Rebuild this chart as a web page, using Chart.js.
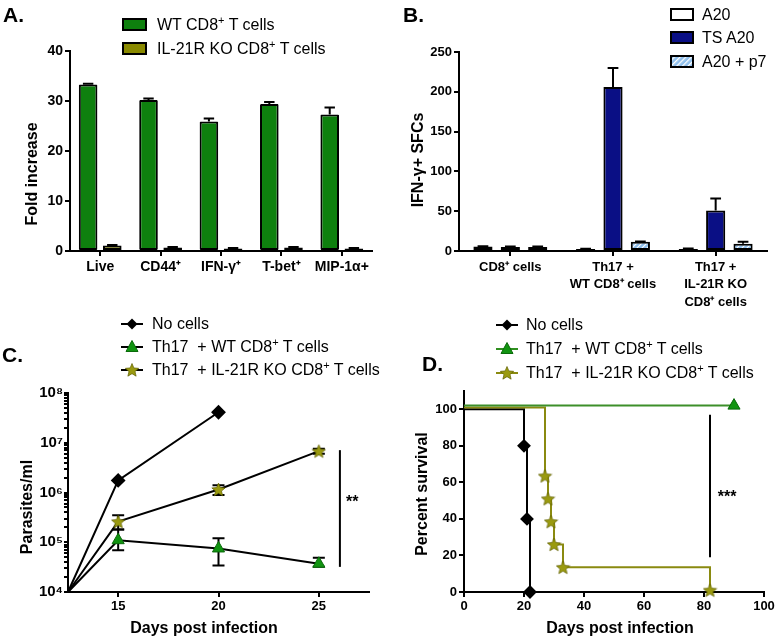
<!DOCTYPE html>
<html><head><meta charset="utf-8">
<script src="https://cdn.jsdelivr.net/npm/chart.js@4.4.1/dist/chart.umd.min.js"></script>
<style>
body{margin:0;background:#fff;width:779px;height:639px;overflow:hidden;position:relative;font-family:"Liberation Sans",Arial,sans-serif;color:#000}
canvas{position:absolute}
.t{position:absolute;white-space:nowrap}
.pl{font-weight:bold;font-size:21px;line-height:24px}
.ax{font-weight:bold;font-size:16px;line-height:18px}
.lg{font-size:16px;line-height:20px}
.rot{transform:translate(-50%,-50%) rotate(-90deg)}
.ctr{transform:translate(-50%,-50%)}
sup{font-size:11px;line-height:0;vertical-align:6px}
</style></head><body>
<canvas id="cA" width="390" height="300" style="left:0;top:0"></canvas>
<canvas id="cB" width="389" height="315" style="left:390px;top:0"></canvas>
<canvas id="cC" width="390" height="339" style="left:0;top:300px"></canvas>
<canvas id="cD" width="389" height="339" style="left:390px;top:300px"></canvas>
<div id="over"></div>
<script>
// ---------- data ----------
const catsA = ['Live', 'CD44⁺', 'IFN-γ⁺', 'T-bet⁺', 'MIP-1α+'];
const wtA = [33.3, 30.2, 25.9, 29.4, 27.3];
const wtAErr = [0.15, 0.3, 0.6, 0.4, 1.4];
const koA = [1.1, 0.7, 0.5, 0.7, 0.5];
const koAErr = [0.1, 0.1, 0.1, 0.1, 0.1];

const catsB = [['CD8⁺ cells'], ['Th17 +', 'WT CD8⁺ cells'], ['Th17 +', 'IL-21R KO', 'CD8⁺ cells']];
const a20B = [5.5, 2.5, 2.5];
const a20BErr = [0.5, 0.3, 0.5];
const tsB = [5, 206, 51];
const tsBErr = [0.5, 24, 15];
const p7B = [5, 11.5, 9];
const p7BErr = [0.5, 0.5, 2.5];

const daysC = [12.5, 15, 20, 25];
const noCellsC = [1e4, 1.75e6, 4.1e7, null];
const wtC = [1e4, 1.1e5, 7.5e4, 3.7e4];
const wtCLo = [null, 6.9e4, 3.4e4, 3.2e4];
const wtCHi = [null, 1.8e5, 1.2e5, 4.9e4];
const koC = [1e4, 2.6e5, 1.15e6, 6.8e6];
const koCLo = [null, 1.8e5, 8.9e5, 6.0e6];
const koCHi = [null, 3.5e5, 1.4e6, 7.6e6];
const xTicksC = [15, 20, 25];
const decadesC = [1e4, 1e5, 1e6, 1e7, 1e8];
const sigC = {x: 26.05, y0: 7.1e6, y1: 3.2e4, label: '**', lx: 26.35, ly: 7.5e5};

const daysNoCellsD = [0, 20, 21, 22];
const survNoCellsD = [100, 80, 40, 0];
const daysWtD = [0, 90];
const survWtD = [102, 102];
const daysKoD = [0, 27, 28, 29, 30, 33, 82];
const survKoD = [101, 63.5, 51, 38.5, 26, 13.5, 1];
const sigD = {x: 82, y0: 97, y1: 19, label: '***', lx: 84.6, ly: 54};

// ---------- styles ----------
const FF = '"Liberation Sans", Arial, sans-serif';
const GREEN = '#0e800e', OLIVE = '#8a8a00', NAVY = '#0a0f85', LBLUE = '#8fbfec';
Chart.defaults.font.family = FF;
Chart.defaults.color = '#000';

function hatchPattern(ctx) {
  const c = document.createElement('canvas'); c.width = 5; c.height = 5;
  const x = c.getContext('2d');
  x.fillStyle = LBLUE; x.fillRect(0, 0, 5, 5);
  x.strokeStyle = '#ffffff'; x.lineWidth = 1.2;
  x.beginPath();
  x.moveTo(-1, 6); x.lineTo(6, -1);
  x.moveTo(-3.5, 3.5); x.lineTo(3.5, -3.5);
  x.moveTo(1.5, 8.5); x.lineTo(8.5, 1.5);
  x.stroke();
  return ctx.createPattern(c, 'repeat');
}
function starPts(cx, cy, R) {
  const r = R * 0.45, p = [];
  for (let i = 0; i < 10; i++) {
    const rr = i % 2 ? r : R, a = -Math.PI / 2 + i * Math.PI / 5;
    p.push([cx + rr * Math.cos(a), cy + rr * Math.sin(a)]);
  }
  return p;
}
function starCanvas(size, color) {
  const c = document.createElement('canvas'); c.width = c.height = size;
  const x = c.getContext('2d');
  const pts = starPts(size / 2, size / 2 + 0.6, size / 2 - 0.5);
  x.beginPath(); pts.forEach((p, i) => i ? x.lineTo(p[0], p[1]) : x.moveTo(p[0], p[1]));
  x.closePath(); x.fillStyle = color; x.fill();
  x.strokeStyle = '#5e5e00'; x.lineWidth = 0.7; x.stroke();
  return c;
}

function axisCommon(fontSize) {
  return {
    border: {color: '#000', width: 2},
    grid: {drawOnChartArea: false, drawTicks: true, tickLength: 5, color: '#000', lineWidth: 2, offset: false},
    ticks: {color: '#000', font: {family: FF, weight: 'bold', size: fontSize}, padding: 2, autoSkip: false, maxRotation: 0}
  };
}
function merge(a, b) {
  for (const k in b) {
    if (b[k] && typeof b[k] === 'object' && !Array.isArray(b[k]) && a[k] && typeof a[k] === 'object') merge(a[k], b[k]);
    else a[k] = b[k];
  }
  return a;
}

// error bars for bar charts (upward only)
const barErrPlugin = {
  id: 'barerr',
  afterDatasetsDraw(chart, args, opts) {
    const ctx = chart.ctx, ys = chart.scales.y;
    (opts.sets || []).forEach((errs, di) => {
      const meta = chart.getDatasetMeta(di), vals = chart.data.datasets[di].data;
      meta.data.forEach((el, i) => {
        const e = errs[i]; if (!e) return;
        const y0 = ys.getPixelForValue(vals[i]), y1 = ys.getPixelForValue(vals[i] + e);
        const hw = el.width * 0.28;
        ctx.save(); ctx.strokeStyle = '#000'; ctx.lineWidth = 2;
        ctx.beginPath(); ctx.moveTo(el.x, y0); ctx.lineTo(el.x, y1);
        ctx.moveTo(el.x - hw, y1); ctx.lineTo(el.x + hw, y1); ctx.stroke(); ctx.restore();
      });
    });
  }
};
// low/high error bars for line chart
const lhErrPlugin = {
  id: 'lherr',
  beforeDatasetsDraw(chart, args, opts) {
    const ctx = chart.ctx, xs = chart.scales.x, ys = chart.scales.y;
    (opts.sets || []).forEach(s => {
      s.x.forEach((xv, i) => {
        if (s.lo[i] == null) return;
        const px = xs.getPixelForValue(xv), a = ys.getPixelForValue(s.lo[i]), b = ys.getPixelForValue(s.hi[i]);
        ctx.save(); ctx.strokeStyle = '#000'; ctx.lineWidth = 2;
        ctx.beginPath(); ctx.moveTo(px, a); ctx.lineTo(px, b);
        ctx.moveTo(px - 6, a); ctx.lineTo(px + 6, a);
        ctx.moveTo(px - 6, b); ctx.lineTo(px + 6, b); ctx.stroke(); ctx.restore();
      });
    });
  }
};
const sigPlugin = {
  id: 'sig',
  afterDatasetsDraw(chart, args, o) {
    if (!o || o.x == null) return;
    const ctx = chart.ctx, xs = chart.scales.x, ys = chart.scales.y;
    const px = xs.getPixelForValue(o.x);
    ctx.save(); ctx.strokeStyle = '#000'; ctx.lineWidth = 2;
    ctx.beginPath(); ctx.moveTo(px, ys.getPixelForValue(o.y0)); ctx.lineTo(px, ys.getPixelForValue(o.y1)); ctx.stroke();
    ctx.fillStyle = '#000'; ctx.font = 'bold 16px ' + FF; ctx.textAlign = 'left'; ctx.textBaseline = 'middle';
    ctx.fillText(o.label, xs.getPixelForValue(o.lx), ys.getPixelForValue(o.ly) + 4);
    ctx.restore();
  }
};

const base = {responsive: false, animation: false, events: []};

// ---------- Panel A ----------
new Chart(document.getElementById('cA'), {
  type: 'bar',
  data: {
    labels: catsA,
    datasets: [
      {label: 'WT CD8⁺ T cells', data: wtA, backgroundColor: GREEN, borderColor: '#000', borderWidth: 2, borderSkipped: false, borderRadius: 1},
      {label: 'IL-21R KO CD8⁺ T cells', data: koA, backgroundColor: OLIVE, borderColor: '#000', borderWidth: 2, borderSkipped: false}
    ]
  },
  options: Object.assign({}, base, {
    layout: {padding: {left: 0, top: 51, right: 18, bottom: 0}},
    datasets: {bar: {categoryPercentage: 0.8, barPercentage: 0.77}},
    plugins: {legend: {display: false}, tooltip: {enabled: false}, barerr: {sets: [wtAErr, koAErr]}},
    scales: {
      x: merge(axisCommon(14), {ticks: {padding: 3}, afterFit(s) { s.height = 49; }}),
      y: merge(axisCommon(14), {min: 0, max: 40, ticks: {stepSize: 10}, afterFit(s) { s.width = 70; }})
    }
  }),
  plugins: [barErrPlugin]
});

// ---------- Panel B ----------
const cB = document.getElementById('cB');
new Chart(cB, {
  type: 'bar',
  data: {
    labels: catsB,
    datasets: [
      {label: 'A20', data: a20B, backgroundColor: '#ffffff', borderColor: '#000', borderWidth: 2, borderSkipped: false},
      {label: 'TS A20', data: tsB, backgroundColor: NAVY, borderColor: '#000', borderWidth: 2, borderSkipped: false},
      {label: 'A20 + p7', data: p7B, backgroundColor: hatchPattern(cB.getContext('2d')), borderColor: '#000', borderWidth: 2, borderSkipped: false}
    ]
  },
  options: Object.assign({}, base, {
    layout: {padding: {left: 0, top: 52, right: 12, bottom: 0}},
    datasets: {bar: {categoryPercentage: 0.80, barPercentage: 0.70}},
    plugins: {legend: {display: false}, tooltip: {enabled: false}, barerr: {sets: [a20BErr, tsBErr, p7BErr]}},
    scales: {
      x: merge(axisCommon(13), {ticks: {padding: 2, font: {lineHeight: 1.38}}, afterFit(s) { s.height = 64; }}),
      y: merge(axisCommon(13), {min: 0, max: 250, ticks: {stepSize: 50}, afterFit(s) { s.width = 69; }})
    }
  }),
  plugins: [barErrPlugin]
});

// ---------- Panel C ----------
const starC = starCanvas(15, '#9a9a10');
const sup = {'0':'⁰','1':'¹','2':'²','3':'³','4':'⁴','5':'⁵','6':'⁶','7':'⁷','8':'⁸','9':'⁹'};
function pts(xs, ys) { return xs.map((x, i) => ({x: x, y: ys[i]})); }
new Chart(document.getElementById('cC'), {
  type: 'line',
  data: {
    datasets: [
      {label: 'No cells', data: pts(daysC, noCellsC), borderColor: '#000', borderWidth: 2, pointStyle: 'rectRot',
       pointRadius: [0, 6, 6], pointBackgroundColor: '#000', pointBorderColor: '#000', spanGaps: false, clip: false},
      {label: 'Th17 + WT CD8⁺ T cells', data: pts(daysC, wtC), borderColor: '#000', borderWidth: 2, pointStyle: 'triangle',
       pointRadius: [0, 7, 7, 7], pointBackgroundColor: '#119411', pointBorderColor: '#0a6a0a', pointBorderWidth: 1, clip: false},
      {label: 'Th17 + IL-21R KO CD8⁺ T cells', data: pts(daysC, koC), borderColor: '#000', borderWidth: 2, pointStyle: starC,
       pointRadius: [0, 7, 7, 7], clip: false}
    ]
  },
  options: Object.assign({}, base, {
    layout: {padding: {left: 0, top: 93, right: 21, bottom: 0}},
    plugins: {legend: {display: false}, tooltip: {enabled: false},
      lherr: {sets: [{x: daysC, lo: wtCLo, hi: wtCHi}, {x: daysC, lo: koCLo, hi: koCHi}]},
      sig: sigC},
    scales: {
      x: merge(axisCommon(13), {type: 'linear', min: 12.5, max: 27.5,
        afterBuildTicks(s) { s.ticks = xTicksC.map(v => ({value: v})); },
        afterFit(s) { s.height = 47; }}),
      y: merge(axisCommon(15), {type: 'logarithmic', min: decadesC[0], max: decadesC[decadesC.length - 1],
        grid: {tickLength: 4},
        afterBuildTicks(s) {
          const t = [];
          decadesC.forEach((d, i) => {
            t.push({value: d, major: true});
            if (i < decadesC.length - 1) for (let k = 2; k <= 9; k++) t.push({value: d * k, major: false});
          });
          s.ticks = t;
        },
        ticks: {padding: 1, callback(v) {
          const e = Math.round(Math.log10(v));
          return Math.abs(Math.pow(10, e) - v) < 1e-6 * v ? '10' + String(e).split('').map(c => sup[c]).join('') : '';
        }},
        afterFit(s) { s.width = 68; }})
    }
  }),
  plugins: [lhErrPlugin, sigPlugin]
});

// ---------- Panel D ----------
const starD = starCanvas(15, '#9a9a10');
new Chart(document.getElementById('cD'), {
  type: 'line',
  data: {
    datasets: [
      {label: 'Th17 + WT CD8⁺ T cells', data: pts(daysWtD, survWtD), borderColor: '#3d8f2a', borderWidth: 2, stepped: true,
       pointStyle: 'triangle', pointRadius: [0, 7], pointBackgroundColor: '#119411', pointBorderColor: '#0a6a0a', pointBorderWidth: 1, clip: false},
      {label: 'Th17 + IL-21R KO CD8⁺ T cells', data: pts(daysKoD, survKoD), borderColor: '#8a8a10', borderWidth: 2, stepped: true,
       pointStyle: starD, pointRadius: [0, 7, 7, 7, 7, 7, 7], clip: false},
      {label: 'No cells', data: pts(daysNoCellsD, survNoCellsD), borderColor: '#000', borderWidth: 2, stepped: true,
       pointStyle: 'rectRot', pointRadius: [0, 5.5, 5.5, 5.5], pointBackgroundColor: '#000', pointBorderColor: '#000', clip: false}
    ]
  },
  options: Object.assign({}, base, {
    layout: {padding: {left: 0, top: 91, right: 15, bottom: 0}},
    plugins: {legend: {display: false}, tooltip: {enabled: false}, sig: sigD},
    scales: {
      x: merge(axisCommon(13), {type: 'linear', min: 0, max: 100, ticks: {stepSize: 20}, afterFit(s) { s.height = 47; }}),
      y: merge(axisCommon(13), {type: 'linear', min: 0, max: 110, ticks: {stepSize: 20},
        afterBuildTicks(s) { s.ticks = s.ticks.filter(t => t.value <= 100 && t.value % 20 === 0); },
        afterFit(s) { s.width = 74; }})
    }
  }),
  plugins: [sigPlugin]
});

// ---------- text overlays: panel letters, axis titles, legends ----------
const over = document.getElementById('over');
let h = '';
h += '<div class="t pl" style="left:3px;top:3px">A.</div>';
h += '<div class="t pl" style="left:403px;top:3px">B.</div>';
h += '<div class="t pl" style="left:2px;top:343px">C.</div>';
h += '<div class="t pl" style="left:422px;top:352px">D.</div>';
h += '<div class="t ax rot" style="left:32px;top:174px">Fold increase</div>';
h += '<div class="t ax rot" style="left:418px;top:160px">IFN-γ+ SFCs</div>';
h += '<div class="t ax rot" style="left:27px;top:507px">Parasites/ml</div>';
h += '<div class="t ax rot" style="left:422px;top:494px">Percent survival</div>';
h += '<div class="t ax ctr" style="left:204px;top:628px">Days post infection</div>';
h += '<div class="t ax ctr" style="left:620px;top:628px">Days post infection</div>';

function boxSw(left, cy, fill) {
  return '<svg class="t" style="left:' + left + 'px;top:' + (cy - 7) + 'px" width="26" height="14">' + fill +
    '</svg>';
}
// Legend A
h += boxSw(122, 25, '<rect x="1" y="1" width="23" height="11" fill="' + GREEN + '" stroke="#000" stroke-width="2"/>');
h += '<div class="t lg" style="left:157px;top:15px">WT CD8<sup>+</sup> T cells</div>';
h += boxSw(122, 49, '<rect x="1" y="1" width="23" height="11" fill="' + OLIVE + '" stroke="#000" stroke-width="2"/>');
h += '<div class="t lg" style="left:157px;top:39px">IL-21R KO CD8<sup>+</sup> T cells</div>';
// Legend B
h += boxSw(670, 15, '<rect x="1" y="1" width="22" height="11" fill="#fff" stroke="#000" stroke-width="2"/>');
h += '<div class="t lg" style="left:702px;top:5px">A20</div>';
h += boxSw(670, 38, '<rect x="1" y="1" width="22" height="11" fill="' + NAVY + '" stroke="#000" stroke-width="2"/>');
h += '<div class="t lg" style="left:702px;top:28px">TS A20</div>';
h += boxSw(670, 62, '<defs><pattern id="hp" width="4" height="4" patternUnits="userSpaceOnUse" patternTransform="rotate(45)"><rect width="4" height="4" fill="' + LBLUE + '"/><rect width="1.3" height="4" fill="#fff"/></pattern></defs><rect x="1" y="1" width="22" height="11" fill="url(#hp)" stroke="#000" stroke-width="2"/>');
h += '<div class="t lg" style="left:702px;top:52px">A20 + p7</div>';

function starPoly(cx, cy, R, fill) {
  return '<polygon points="' + starPts(cx, cy, R).map(p => p[0].toFixed(2) + ',' + p[1].toFixed(2)).join(' ') + '" fill="' + fill + '" stroke="#5e5e00" stroke-width="0.7"/>';
}
function lineSw(left, cy, color, marker) {
  return '<svg class="t" style="left:' + left + 'px;top:' + (cy - 9) + 'px" width="24" height="18"><line x1="1" y1="9" x2="23" y2="9" stroke="' + color + '" stroke-width="2"/>' + marker + '</svg>';
}
const dia = '<polygon points="12,3.5 17.5,9 12,14.5 6.5,9" fill="#000"/>';
const tri = '<polygon points="12,2.5 18,13.5 6,13.5" fill="#119411" stroke="#0a6a0a" stroke-width="1"/>';
const legC = [['#000', dia, 'No cells'], ['#000', tri, 'Th17&nbsp; + WT CD8<sup>+</sup> T cells'], ['#000', starPoly(12, 9.5, 7, '#9a9a10'), 'Th17&nbsp; + IL-21R KO CD8<sup>+</sup> T cells']];
const rowsC = [324, 347, 370];
legC.forEach((r, i) => {
  h += lineSw(120, rowsC[i], r[0], r[1]);
  h += '<div class="t lg" style="left:152px;top:' + (rowsC[i] - 10) + 'px">' + r[2] + '</div>';
});
const legD = [['#000', dia, 'No cells'], ['#2f8f1f', tri, 'Th17&nbsp; + WT CD8<sup>+</sup> T cells'], ['#8a8a10', starPoly(12, 9.5, 7, '#9a9a10'), 'Th17&nbsp; + IL-21R KO CD8<sup>+</sup> T cells']];
const rowsD = [325, 349, 373];
legD.forEach((r, i) => {
  h += lineSw(495, rowsD[i], r[0], r[1]);
  h += '<div class="t lg" style="left:526px;top:' + (rowsD[i] - 10) + 'px">' + r[2] + '</div>';
});
over.innerHTML = h;
</script>
</body></html>
